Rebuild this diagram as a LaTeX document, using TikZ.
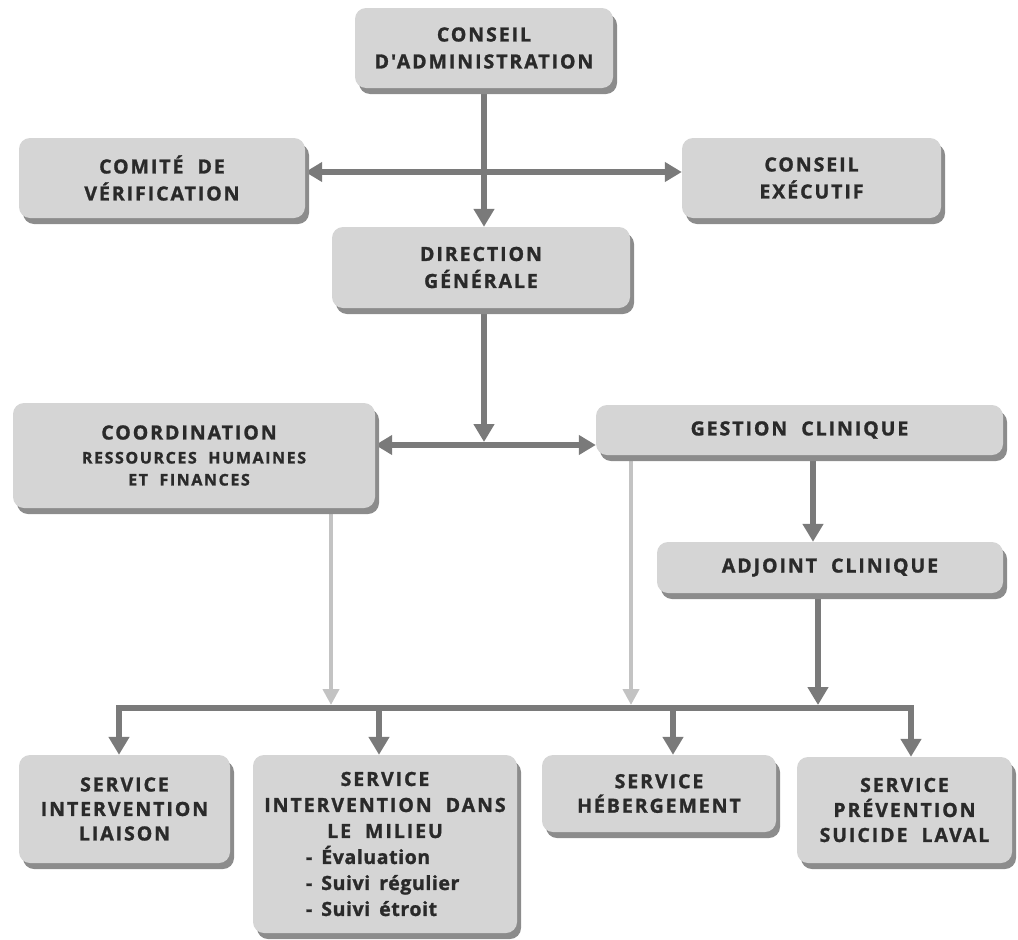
\documentclass[tikz,border=0pt]{standalone}
\usepackage{fontspec}
\usetikzlibrary{arrows.meta,shadows,backgrounds}
\newfontfamily\bxf{Open Sans}[LetterSpace=10,WordSpace=2,BoldFeatures={FakeBold=1.3}]
\newfontfamily\bxl{Open Sans}[LetterSpace=3,WordSpace=1.6,BoldFeatures={FakeBold=1.3}]
\definecolor{boxfill}{HTML}{D5D5D5}
\definecolor{boxshadow}{HTML}{8C8C8C}
\definecolor{txt}{HTML}{2A2A2A}
\definecolor{darkarrow}{HTML}{7A7A7A}
\definecolor{lightarrow}{HTML}{C3C3C3}
\tikzset{
  orgbox/.style={rectangle, rounded corners=11pt, fill=boxfill, draw=none, text=txt,
    align=center, inner sep=0pt,
    font=\bxf\bfseries\fontsize{19.5}{27}\selectfont,
    drop shadow={shadow xshift=4pt, shadow yshift=-6pt, fill=boxshadow, opacity=1}},
  darkline/.style={draw=darkarrow, line width=6pt},
  lightline/.style={draw=lightarrow, line width=4.5pt},
  darkhead/.style={-{Triangle[length=18pt,width=20pt]}},
  lighthead/.style={-{Triangle[length=16pt,width=16pt]}},
  twohead/.style={{Triangle[length=17pt,width=19pt]}-{Triangle[length=17pt,width=19pt]}},
}
\newcommand{\smalltxt}{\fontsize{16}{22}\selectfont}
\newcommand{\bul}[1]{\makebox[158pt][l]{\bxl\bfseries #1}}
\begin{document}
\begin{tikzpicture}[x=1pt,y=-1pt]
\useasboundingbox (0,0) rectangle (1018,940);

% boxes
\node[orgbox, minimum width=258pt, minimum height=80pt] (ca) at (484,48) {CONSEIL\\D\symbol{39}ADMINISTRATION};
\node[orgbox, minimum width=286pt, minimum height=80pt] (cv) at (162,178) {COMITÉ DE\\VÉRIFICATION};
\node[orgbox, minimum width=259pt, minimum height=80pt] (ce) at (811.5,178) {CONSEIL\\EXÉCUTIF};
\node[orgbox, minimum width=298pt, minimum height=81pt] (dg) at (481,267.5) {DIRECTION\\GÉNÉRALE};
\node[orgbox, minimum width=362pt, minimum height=105pt] (co) at (194,455.5)
  {COORDINATION\hspace*{10pt}\\[-3pt]{\smalltxt RESSOURCES HUMAINES\hspace*{10pt}}\\[-5pt]{\smalltxt ET FINANCES\hspace*{10pt}}};
\node[orgbox, minimum width=407pt, minimum height=50pt] (gc) at (799.5,430) {GESTION CLINIQUE};
\node[orgbox, minimum width=346pt, minimum height=51pt] (adj) at (830,567.5) {ADJOINT CLINIQUE};
\node[orgbox, minimum width=211pt, minimum height=108pt, font=\bxf\bfseries\fontsize{19.5}{24.5}\selectfont] (sil) at (124.5,809) {SERVICE\\INTERVENTION\\LIAISON};
\node[orgbox, minimum width=264pt, minimum height=178pt, font=\bxf\bfseries\fontsize{19.5}{26}\selectfont] (sim) at (385,844)
  {SERVICE\\INTERVENTION DANS\\LE MILIEU\\\bul{- Évaluation}\\\bul{- Suivi régulier}\\\bul{- Suivi étroit}};
\node[orgbox, minimum width=234pt, minimum height=77pt, font=\bxf\bfseries\fontsize{19.5}{24.5}\selectfont] (sh) at (659,793.5) {SERVICE\\HÉBERGEMENT};
\node[orgbox, minimum width=215pt, minimum height=106pt, font=\bxf\bfseries\fontsize{19.5}{25}\selectfont] (sps) at (904.5,810) {SERVICE\\PRÉVENTION\\SUICIDE LAVAL};

% helper coordinates
\coordinate (j) at (484,445);
\coordinate (bl) at (119,708);
\coordinate (br) at (911,708);
\coordinate (b2) at (379,708);
\coordinate (b3) at (673,708);
\coordinate (bustop) at (0,705);
\coordinate (xa) at (331,0);
\coordinate (xb) at (631,0);
\coordinate (xc) at (818,0);
\coordinate (xd) at (813,0);

\begin{scope}[on background layer]
\draw[darkline, twohead] ([yshift=6pt]cv.east) -- ([yshift=6pt]ce.west);
\draw[darkline, darkhead] (ca.south) -- (ca.south |- dg.north);
\draw[darkline, darkhead] (dg.south -| j) -- ([yshift=3pt]j);
\draw[darkline, twohead] (co.east |- j) -- (gc.west |- j);
\draw[darkline, darkhead] (xd |- gc.south) -- (xd |- adj.north);
\draw[lightline, lighthead] (xa |- co.south) -- (xa |- bustop);
\draw[lightline, lighthead] (xb |- gc.south) -- (xb |- bustop);
\draw[darkline, darkhead] (xc |- adj.south) -- (xc |- bustop);
\draw[darkline, line cap=rect] (bl) -- (br);
\draw[darkline, darkhead] (bl) -- (bl |- sil.north);
\draw[darkline, darkhead] (b2) -- (b2 |- sim.north);
\draw[darkline, darkhead] (b3) -- (b3 |- sh.north);
\draw[darkline, darkhead] (br) -- (br |- sps.north);
\end{scope}
\end{tikzpicture}
\end{document}
